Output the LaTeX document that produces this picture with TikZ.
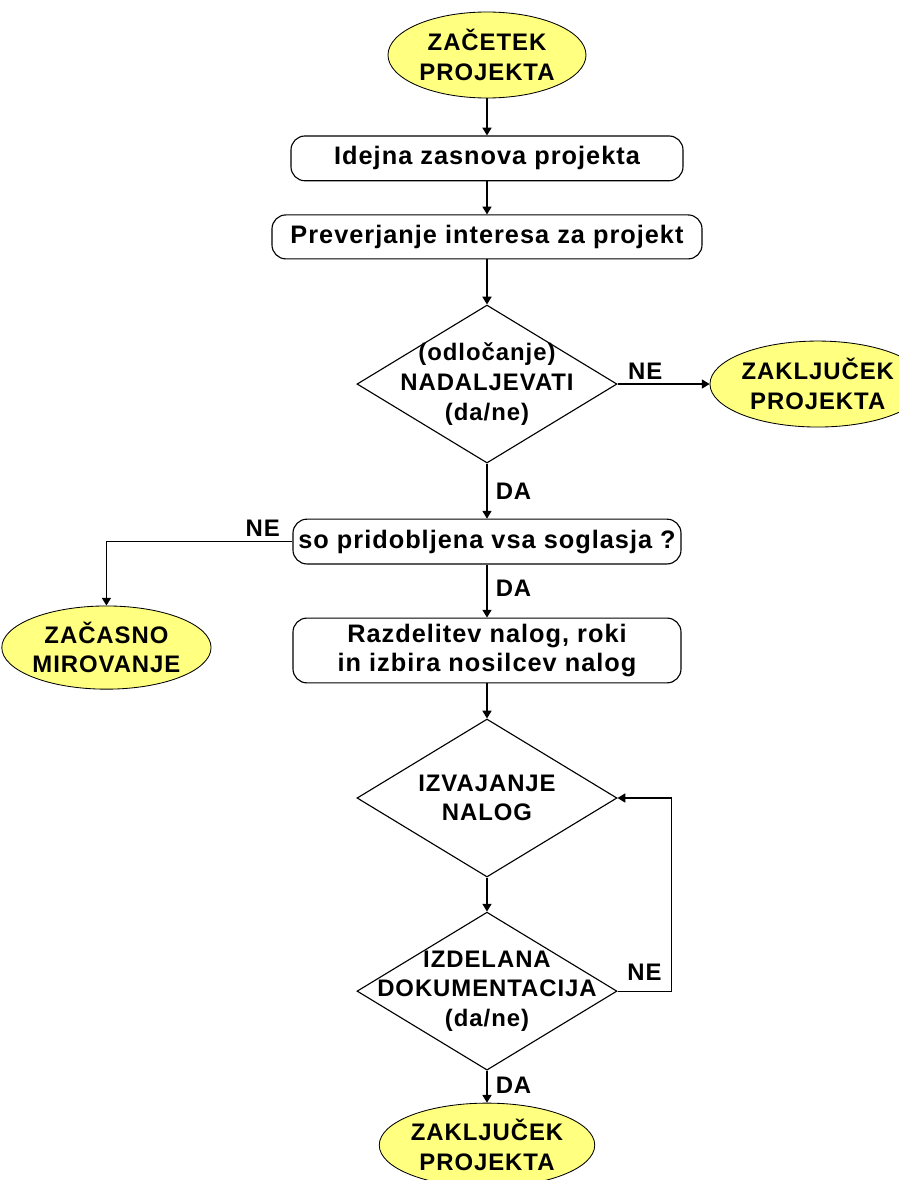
\documentclass[tikz,border=0pt]{standalone}
\usepackage{fontspec}
\setmainfont[LetterSpace=4]{Liberation Sans}
\usepackage{tikz}
\usetikzlibrary{arrows.meta, positioning, shapes.geometric, calc}
\definecolor{fcYellow}{HTML}{FFFF80}

\begin{document}
\begin{tikzpicture}[
  >={Triangle[length=5.5pt,width=6.5pt]},
  every node/.style={font=\fontsize{17}{21}\selectfont\bfseries},
  term/.style={ellipse, draw, fill=fcYellow, line width=0.6pt, inner sep=0pt,
               minimum width=#1, minimum height=2.15cm, align=center},
  proc/.style={draw, rounded corners=0.35cm, line width=0.8pt, minimum width=#1,
               minimum height=1.12cm, align=center, inner sep=2pt,
               font=\fontsize{18}{21}\selectfont\bfseries},
  decision/.style={diamond, draw, line width=0.8pt, minimum width=6.5cm,
                   minimum height=3.95cm, inner sep=0pt},
  dtext/.style={align=center, inner sep=0pt},
  lbl/.style={inner sep=3pt},
  arr/.style={->, line width=0.8pt},
]
  \useasboundingbox (-12.175,1.375) rectangle (10.275,-28.125);

  % main column
  \node[term=4.95cm] (start) {ZAČETEK\\PROJEKTA};
  \node[proc=9.8cm, below=0.925cm of start] (idea) {Idejna zasnova projekta};
  \node[proc=10.75cm, minimum height=1.1cm, below=0.825cm of idea] (check) {Preverjanje interesa za projekt};
  \node[decision, below=1.125cm of check] (go) {};
  \node[dtext] (gotext) at (go) {(odločanje)\\NADALJEVATI\\(da/ne)};
  \node[proc=9.7cm, below=1.375cm of go] (agree) {so pridobljena vsa soglasja ?};
  \node[proc=9.7cm, minimum height=1.62cm, below=1.325cm of agree] (tasks) {Razdelitev nalog, roki\\in izbira nosilcev nalog};
  \node[decision, below=0.875cm of tasks] (work) {};
  \node[dtext] (worktext) at (work) {IZVAJANJE\\NALOG};
  \node[decision, below=0.85cm of work] (docs) {};
  \node[dtext] (docstext) at (docs) {IZDELANA\\DOKUMENTACIJA\\(da/ne)};
  \node[term=5cm, minimum height=2.1cm, below=0.8cm of docs] (finish) {ZAKLJUČEK\\PROJEKTA};

  % side exits
  \node[term=4.75cm, right=2.3cm of go] (stop) {ZAKLJUČEK\\PROJEKTA};
  \node[term=4.95cm, minimum height=2.08cm] (pause) at ($(agree.west)+(-4.65,-2.65)$) {ZAČASNO\\MIROVANJE};

  \draw[arr] (start) -- (idea);
  \draw[arr] (idea) -- (check);
  \draw[arr] (check) -- (go);
  \draw[arr] (go) -- node[lbl, pos=0.3, above] (ne1) {NE} (stop);
  \draw[arr] (go) -- node[lbl, right, xshift=0.1cm] (da1) {DA} (agree);
  \draw[arr] (agree.west) -| node[lbl, pos=0.08, above] (ne2) {NE} (pause.north);
  \draw[arr] (agree) -- node[lbl, right, xshift=0.1cm, pos=0.45] (da2) {DA} (tasks);
  \draw[arr] (tasks) -- (work);
  \draw[arr] (work) -- (docs);
  \draw[arr] (docs.east) -- node[lbl, pos=0.5, above, yshift=0.15cm] (ne3) {NE} ++(1.35,0) |- (work.east);
  \draw[arr] (docs) -- node[lbl, right, xshift=0.1cm, pos=0.45] (da3) {DA} (finish);
\end{tikzpicture}
\end{document}
